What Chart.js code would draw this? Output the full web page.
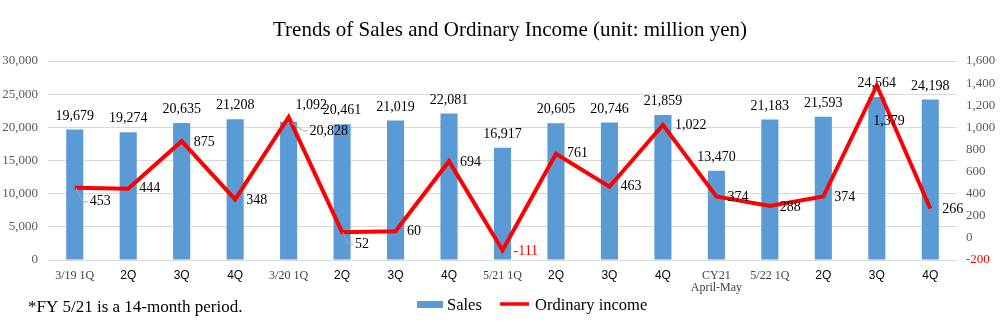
<!DOCTYPE html>
<html>
<head>
<meta charset="utf-8">
<script src="https://cdn.jsdelivr.net/npm/chart.js@4/dist/chart.umd.min.js"></script>
<style>
  html, body { margin: 0; padding: 0; background: #fff; }
  canvas { display: block; }
</style>
</head>
<body>
<canvas id="c" width="1008" height="324"></canvas>
<script>
// Quarterly sales and ordinary income (million yen)
const categories = [
  '3/19 1Q', '2Q', '3Q', '4Q',
  '3/20 1Q', '2Q', '3Q', '4Q',
  '5/21 1Q', '2Q', '3Q', '4Q',
  ['CY21', 'April-May'],
  '5/22 1Q', '2Q', '3Q', '4Q'
];
const sales = [19679, 19274, 20635, 21208, 20828, 20461, 21019, 22081, 16917,
               20605, 20746, 21859, 13470, 21183, 21593, 24564, 24198];
const ordinaryIncome = [453, 444, 875, 348, 1092, 52, 60, 694, -111,
                        761, 463, 1022, 374, 288, 374, 1379, 266];
const salesTicks = [0, 5000, 10000, 15000, 20000, 25000, 30000];
const incomeTicks = [-200, 0, 200, 400, 600, 800, 1000, 1200, 1400, 1600];

const SERIF = '"Liberation Serif", "Times New Roman", serif';
const SANS = '"Liberation Sans", Arial, sans-serif';
const BLUE = '#5B9BD5';
const RED = '#FF0000';

// label placement for the income series: [dx to left edge, dy to text middle, leader line]
const incomeLabelPlacement = [
  [15, 14, true], [11, 0], [12, 1.5], [11, 0.5], [7, -12], [13, 12, true], [11.5, 0.5], [11, 1],
  [11, 1], [11, 0], [11, 0], [12, 0], [11, 0.5], [10, 1], [11, 0.5], [-3.5, 36], [12, 0.5]
];

const fmt = v => v.toLocaleString('en-US');

const annotations = {
  id: 'annotations',
  afterDatasetsDraw(chart) {
    const ctx = chart.ctx;
    const bars = chart.getDatasetMeta(1).data;
    const pts = chart.getDatasetMeta(0).data;
    ctx.save();
    ctx.font = '14px ' + SERIF;
    ctx.textBaseline = 'middle';

    // sales values above the bars
    bars.forEach((b, i) => {
      ctx.fillStyle = '#000';
      if (i === 4) {
        // shifted aside, with a leader from the bar top
        const lx = b.x + 21, ly = b.y + 9;
        ctx.strokeStyle = '#A6A6A6';
        ctx.lineWidth = 1;
        ctx.beginPath();
        ctx.moveTo(b.x + 2, b.y + 0.5);
        ctx.lineTo(b.x + 15, ly);
        ctx.lineTo(lx - 2, ly);
        ctx.stroke();
        ctx.textAlign = 'left';
        ctx.fillText(fmt(sales[i]), lx, ly);
      } else {
        ctx.textAlign = 'center';
        ctx.fillText(fmt(sales[i]), b.x, b.y - 13.5);
      }
    });

    // ordinary income values beside the line
    pts.forEach((p, i) => {
      const [dx, dy, leader] = incomeLabelPlacement[i];
      const lx = p.x + dx, ly = p.y + dy;
      if (leader) {
        ctx.strokeStyle = '#A6A6A6';
        ctx.lineWidth = 1;
        ctx.beginPath();
        ctx.moveTo(p.x + 1, p.y);
        ctx.lineTo(lx - 7, ly);
        ctx.lineTo(lx - 2, ly);
        ctx.stroke();
      }
      ctx.textAlign = 'left';
      ctx.fillStyle = ordinaryIncome[i] < 0 ? RED : '#000';
      ctx.fillText(fmt(ordinaryIncome[i]), lx, ly);
    });
    ctx.restore();
  },
  afterDraw(chart) {
    const ctx = chart.ctx;
    ctx.save();
    // title
    ctx.fillStyle = '#000';
    ctx.textAlign = 'center';
    ctx.textBaseline = 'alphabetic';
    ctx.font = '21px ' + SERIF;
    ctx.fillText('Trends of Sales and Ordinary Income (unit: million yen)', 510, 36);

    // footnote
    ctx.textAlign = 'left';
    ctx.font = '17px ' + SERIF;
    ctx.fillText('*FY 5/21 is a 14-month period.', 28, 312);

    // legend
    ctx.font = '16.5px ' + SERIF;
    ctx.fillStyle = BLUE;
    ctx.fillRect(417, 301, 26, 7);
    ctx.fillStyle = '#000';
    ctx.fillText('Sales', 447, 310);
    ctx.strokeStyle = RED;
    ctx.lineWidth = 3.5;
    ctx.beginPath();
    ctx.moveTo(500, 304);
    ctx.lineTo(529, 304);
    ctx.stroke();
    ctx.fillText('Ordinary income', 535, 310);
    ctx.restore();
  }
};

const isSerifLabel = i => {
  const c = categories[i];
  return Array.isArray(c) || c.includes('/');
};

new Chart(document.getElementById('c'), {
  data: {
    labels: categories,
    datasets: [
      {
        type: 'line',
        label: 'Ordinary income',
        data: ordinaryIncome,
        yAxisID: 'y1',
        borderColor: RED,
        backgroundColor: RED,
        borderWidth: 4,
        pointRadius: 0,
        tension: 0,
        order: 0
      },
      {
        type: 'bar',
        label: 'Sales',
        data: sales,
        yAxisID: 'y',
        backgroundColor: BLUE,
        borderWidth: 0,
        categoryPercentage: 1,
        barPercentage: 0.32,
        order: 1
      }
    ]
  },
  options: {
    responsive: false,
    animation: false,
    layout: { padding: { top: 61, left: 0, right: 0, bottom: 0 } },
    plugins: { legend: { display: false }, title: { display: false }, tooltip: { enabled: false } },
    scales: {
      x: {
        grid: { display: false, drawTicks: false },
        border: { display: false },
        afterFit: s => { s.height = 64; },
        ticks: {
          padding: 10,
          maxRotation: 0,
          autoSkip: false,
          font: ctx => isSerifLabel(ctx.index)
            ? { family: SERIF, size: 12, lineHeight: 1 }
            : { family: SANS, size: 12, lineHeight: 1 },
          color: ctx => isSerifLabel(ctx.index) ? '#404040' : '#000'
        }
      },
      y: {
        position: 'left',
        min: salesTicks[0],
        max: salesTicks[salesTicks.length - 1],
        afterFit: s => { s.width = 48; },
        afterBuildTicks: s => { s.ticks = salesTicks.map(v => ({ value: v })); },
        grid: { color: '#D9D9D9', drawTicks: false, lineWidth: 1 },
        border: { display: false },
        ticks: {
          padding: 10,
          font: { family: SERIF, size: 13 },
          color: '#595959',
          callback: v => fmt(v)
        }
      },
      y1: {
        position: 'right',
        min: incomeTicks[0],
        max: incomeTicks[incomeTicks.length - 1],
        afterFit: s => { s.width = 51; },
        afterBuildTicks: s => { s.ticks = incomeTicks.map(v => ({ value: v })); },
        grid: { drawOnChartArea: false, drawTicks: false },
        border: { display: false },
        ticks: {
          padding: 9,
          font: { family: SERIF, size: 13 },
          color: ctx => (ctx.tick && ctx.tick.value < 0) ? RED : '#595959',
          callback: v => fmt(v)
        }
      }
    }
  },
  plugins: [annotations]
});
</script>
</body>
</html>
